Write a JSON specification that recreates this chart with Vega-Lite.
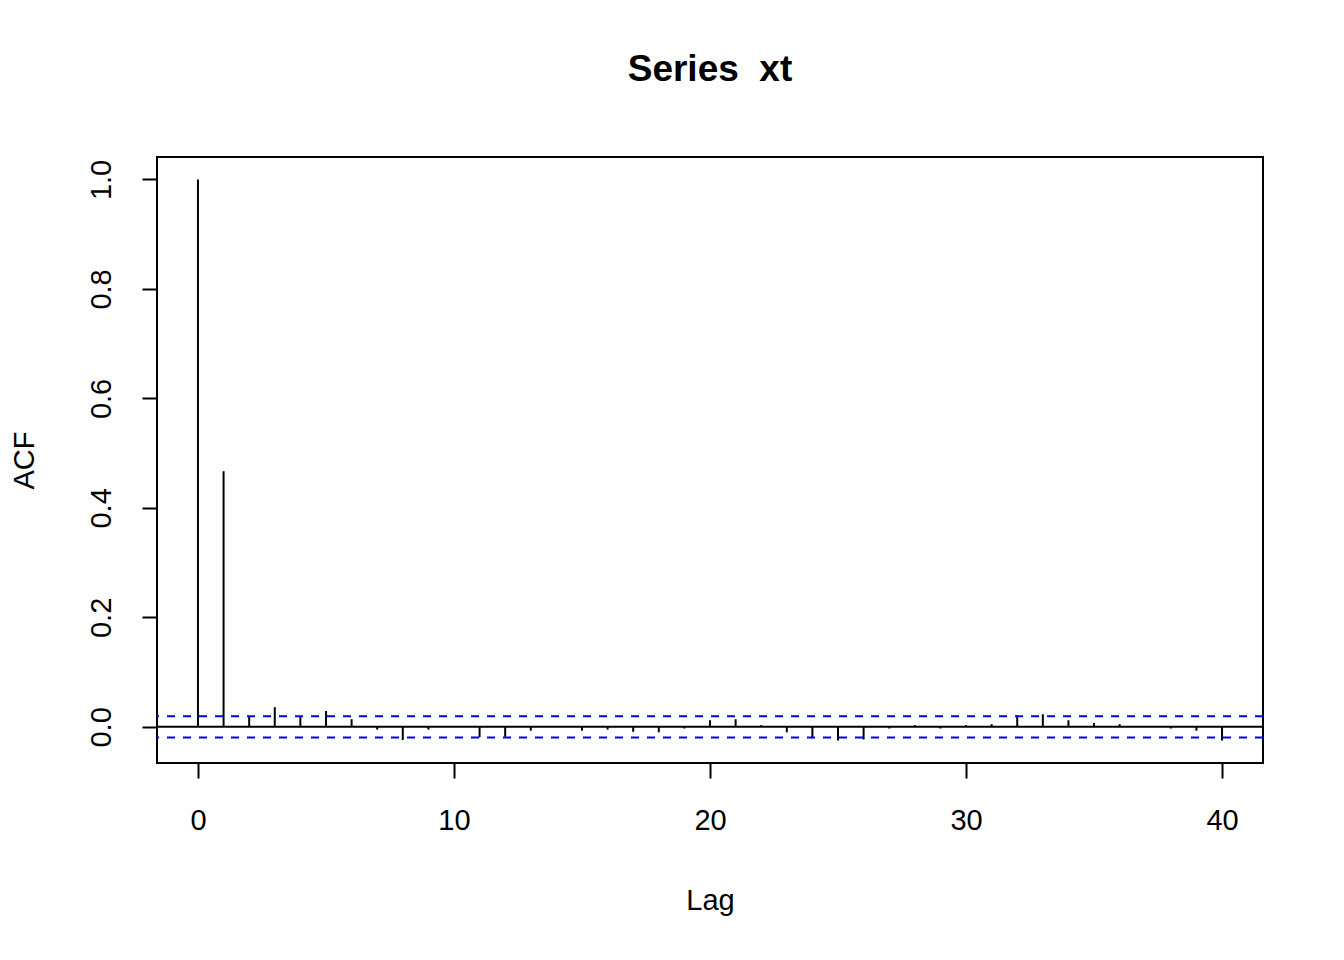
{
  "$schema": "https://vega.github.io/schema/vega-lite/v6.json",
  "autosize": {"type": "none"},
  "padding": {"left": 157, "top": 157, "right": 81, "bottom": 197},
  "width": 1106,
  "height": 606,
  "background": "white",
  "title": {
    "text": "Series \u00a0xt",
    "font": "Liberation Sans",
    "fontSize": 37,
    "fontWeight": "bold",
    "color": "black",
    "anchor": "middle",
    "frame": "group",
    "offset": 39,
    "baseline": "alphabetic"
  },
  "config": {
    "view": {"stroke": "black", "strokeWidth": 2},
    "axis": {
      "grid": false,
      "domain": false,
      "tickColor": "black",
      "tickWidth": 2,
      "tickSize": 15,
      "labelFont": "Liberation Sans",
      "labelFontSize": 29,
      "labelColor": "black",
      "titleFont": "Liberation Sans",
      "titleFontSize": 29,
      "titleFontWeight": "normal",
      "titleColor": "black"
    }
  },
  "datasets": {
    "acf": [
      {"lag": 0, "acf": 1.0},
      {"lag": 1, "acf": 0.467},
      {"lag": 2, "acf": 0.019},
      {"lag": 3, "acf": 0.036},
      {"lag": 4, "acf": 0.018},
      {"lag": 5, "acf": 0.029},
      {"lag": 6, "acf": 0.014},
      {"lag": 7, "acf": -0.005},
      {"lag": 8, "acf": -0.024},
      {"lag": 9, "acf": -0.005},
      {"lag": 10, "acf": 0.0005},
      {"lag": 11, "acf": -0.019},
      {"lag": 12, "acf": -0.018},
      {"lag": 13, "acf": -0.007},
      {"lag": 14, "acf": 0.001},
      {"lag": 15, "acf": -0.007},
      {"lag": 16, "acf": -0.005},
      {"lag": 17, "acf": -0.009},
      {"lag": 18, "acf": -0.010},
      {"lag": 19, "acf": -0.003},
      {"lag": 20, "acf": 0.012},
      {"lag": 21, "acf": 0.014},
      {"lag": 22, "acf": 0.003},
      {"lag": 23, "acf": -0.010},
      {"lag": 24, "acf": -0.021},
      {"lag": 25, "acf": -0.025},
      {"lag": 26, "acf": -0.023},
      {"lag": 27, "acf": -0.003},
      {"lag": 28, "acf": 0.003},
      {"lag": 29, "acf": -0.003},
      {"lag": 30, "acf": 0.003},
      {"lag": 31, "acf": 0.005},
      {"lag": 32, "acf": 0.021},
      {"lag": 33, "acf": 0.023},
      {"lag": 34, "acf": 0.012},
      {"lag": 35, "acf": 0.007},
      {"lag": 36, "acf": 0.005},
      {"lag": 37, "acf": 0.0005},
      {"lag": 38, "acf": -0.003},
      {"lag": 39, "acf": -0.007},
      {"lag": 40, "acf": -0.025}
    ],
    "ci": [
      {"bound": 0.0196},
      {"bound": -0.0196}
    ]
  },
  "layer": [
    {
      "data": {"name": "acf"},
      "mark": {"type": "rule", "color": "black", "strokeWidth": 2},
      "encoding": {
        "x": {
          "field": "lag",
          "type": "quantitative",
          "scale": {"domain": [-1.6, 41.6], "nice": false, "zero": false},
          "axis": {"values": [0, 10, 20, 30, 40], "title": "Lag", "labelPadding": 28, "titleY": 137, "titleBaseline": "middle", "labelFlush": false}
        },
        "y": {
          "field": "acf",
          "type": "quantitative",
          "scale": {"domain": [-0.066, 1.041], "nice": false, "zero": false},
          "axis": {"values": [0, 0.2, 0.4, 0.6, 0.8, 1.0], "format": ".1f", "title": "ACF", "labelAngle": 270, "labelAlign": "center", "labelBaseline": "bottom", "labelPadding": 26, "titleX": -133, "titleBaseline": "middle", "titleAngle": 270, "labelFlush": false}
        },
        "y2": {"datum": 0}
      }
    },
    {
      "data": {"values": [{}]},
      "mark": {"type": "rule", "color": "black", "strokeWidth": 2},
      "encoding": {"y": {"datum": 0, "type": "quantitative"}}
    },
    {
      "data": {"name": "ci"},
      "mark": {"type": "rule", "color": "#0000FF", "strokeWidth": 2, "strokeDash": [8, 8]},
      "encoding": {"y": {"field": "bound", "type": "quantitative"}}
    }
  ]
}
